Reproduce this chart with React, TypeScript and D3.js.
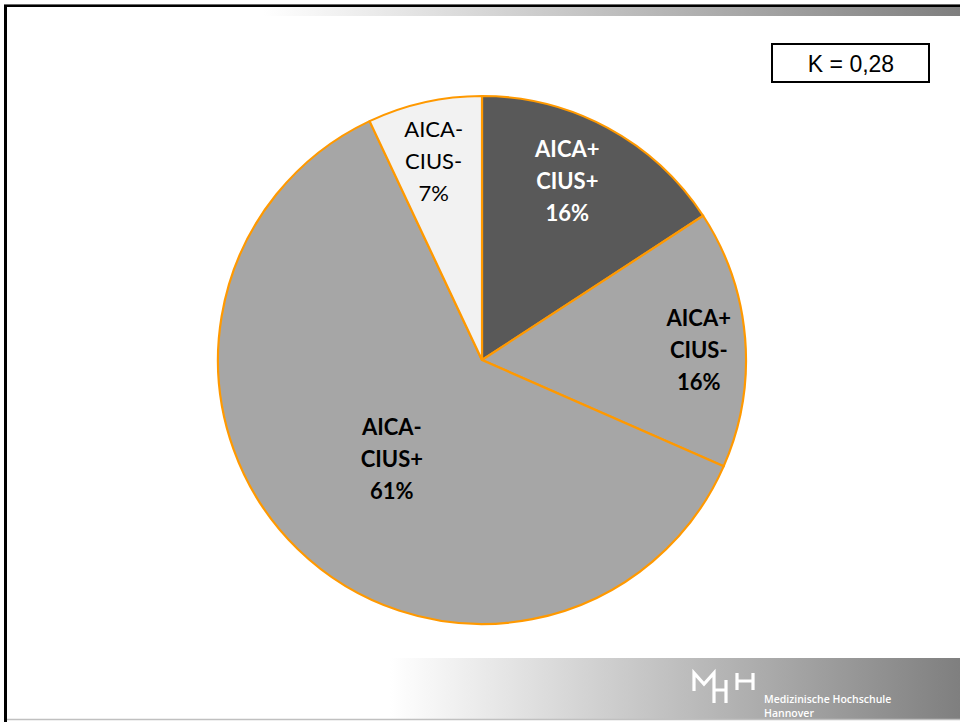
import React from "react";
import * as d3 from "d3";

const categories: string[][] = [
  ["AICA+", "CIUS+"],
  ["AICA+", "CIUS-"],
  ["AICA-", "CIUS+"],
  ["AICA-", "CIUS-"],
];
const values: number[] = [15.8, 15.8, 61.4, 7.0];
const sliceColors: string[] = ["#595959", "#a6a6a6", "#a6a6a6", "#f2f2f2"];
const labelBold: boolean[] = [true, true, true, false];
const labelColors: string[] = ["#ffffff", "#000000", "#000000", "#000000"];
const labelRadius: number[] = [0.75, 0.82, 0.5, 0.77];
const labelNudge: [number, number][] = [
  [-9, -4],
  [1, 8],
  [2, 5],
  [-4, 0],
];
const kappaText = "K = 0,28";

const W = 960;
const H = 722;

export default function App() {
  const cx = 482;
  const cy = 360;
  const R = 264;
  const pie = d3
    .pie<number>()
    .sort(null)
    .value((d) => d)
    .startAngle(0)
    .endAngle(2 * Math.PI);
  const arcs = pie(values);
  const arcGen = d3.arc<d3.PieArcDatum<number>>().innerRadius(0).outerRadius(R);
  const total = d3.sum(values);

  return (
    <svg
      width={W}
      height={H}
      style={{ position: "absolute", left: 0, top: 0, background: "#fff" }}
    >
      <defs>
        <linearGradient id="gTop" x1="0" x2="1" y1="0" y2="0">
          <stop offset="0" stopColor="#ffffff" />
          <stop offset="1" stopColor="#7f7f7f" />
        </linearGradient>
        <linearGradient id="gBot" x1="0" x2="1" y1="0" y2="0">
          <stop offset="0" stopColor="#ffffff" />
          <stop offset="1" stopColor="#7f7f7f" />
        </linearGradient>
      </defs>
      {/* frame */}
      <rect x={0} y={0} width={W} height={H} fill="#ffffff" />
      <rect x={263} y={7} width={W - 263} height={9} fill="url(#gTop)" />
      <rect x={390} y={658} width={W - 390} height={61} fill="url(#gBot)" />
      <line x1={4} x2={W} y1={4.5} y2={4.5} stroke="#6a6a6a" strokeWidth={1} />
      <line x1={4} x2={W} y1={6} y2={6} stroke="#000" strokeWidth={2} />
      <line x1={5.5} x2={5.5} y1={5} y2={H} stroke="#000" strokeWidth={3} />
      <line x1={7} x2={W} y1={719.5} y2={719.5} stroke="#c0c0c0" strokeWidth={1.5} />

      {/* logo */}
      <g stroke="#ffffff" strokeWidth={3.2} fill="none" strokeLinecap="butt">
        <path d="M694,691 L694,673 L704,684 L714,673 L714,703" />
        <path d="M714,690 L726,690 M726,680 L726,703" />
        <path d="M737,673 L737,690 M737,681 L753,681 M753,673 L753,690" />
      </g>
      <text
        x={764}
        y={703}
        fill="#ffffff"
        fontFamily="'Open Sans', sans-serif"
        fontWeight={600}
        fontSize={10.5}
      >
        Medizinische Hochschule
      </text>
      <text
        x={764}
        y={716.5}
        fill="#ffffff"
        fontFamily="'Open Sans', sans-serif"
        fontWeight={600}
        fontSize={10.5}
      >
        Hannover
      </text>

      {/* pie */}
      <g transform={`translate(${cx},${cy})`}>
        {arcs.map((a, i) => (
          <path
            key={i}
            d={arcGen(a) || ""}
            fill={sliceColors[i]}
            stroke="#ff9900"
            strokeWidth={2.2}
            strokeLinejoin="round"
          />
        ))}
        {arcs.map((a, i) => {
          const lr = R * labelRadius[i];
          const mid = (a.startAngle + a.endAngle) / 2;
          const x = Math.sin(mid) * lr + labelNudge[i][0];
          const y = -Math.cos(mid) * lr + labelNudge[i][1];
          const lines = [...categories[i], `${Math.round((values[i] / total) * 100)}%`];
          return (
            <text
              key={"t" + i}
              x={x}
              y={y}
              textAnchor="middle"
              fontFamily="Lato, 'Open Sans', sans-serif"
              fontWeight={labelBold[i] ? 700 : 400}
              fontSize={22}
              fill={labelColors[i]}
            >
              {lines.map((l, j) => (
                <tspan key={j} x={x} y={y + (j - 1) * 32 + 7.5}>
                  {l}
                </tspan>
              ))}
            </text>
          );
        })}
      </g>

      {/* kappa box */}
      <rect x={772} y={44} width={157} height={38} fill="#fff" stroke="#000" strokeWidth={2} />
      <text
        x={851}
        y={71.5}
        textAnchor="middle"
        fontFamily="'Liberation Sans', Arial, sans-serif"
        fontSize={23}
        fill="#000"
      >
        {kappaText}
      </text>
    </svg>
  );
}
